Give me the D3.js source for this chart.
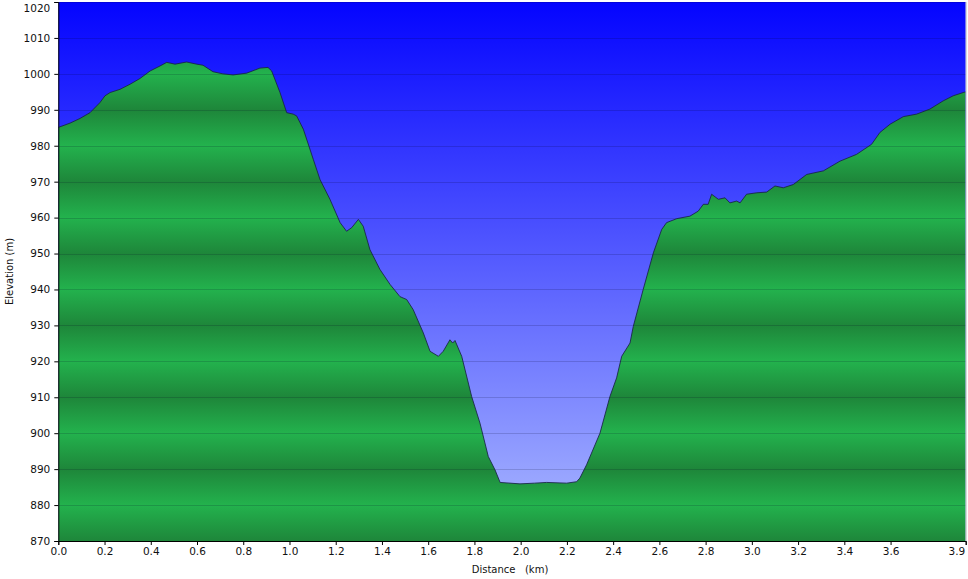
<!DOCTYPE html>
<html>
<head>
<meta charset="utf-8">
<script src="https://cdn.jsdelivr.net/npm/d3@7"></script>
<style>
  html, body { margin: 0; padding: 0; background: #ffffff; }
  svg { display: block; }
  text { font-family: "DejaVu Sans", Verdana, sans-serif; fill: #111; }
</style>
</head>
<body>
<svg id="chart" width="968" height="579"></svg>
<script>
// ---- Data ----
const distanceKm = [
  0.000, 0.051, 0.094, 0.137, 0.180, 0.202, 0.224, 0.267, 0.310, 0.353,
  0.397, 0.440, 0.469, 0.505, 0.555, 0.599, 0.626, 0.669, 0.712, 0.756,
  0.815, 0.872, 0.907, 0.923, 0.959, 0.988, 1.016, 1.031, 1.060, 1.103,
  1.132, 1.175, 1.219, 1.247, 1.269, 1.298, 1.319, 1.348, 1.391, 1.435,
  1.478, 1.507, 1.535, 1.579, 1.608, 1.644, 1.665, 1.694, 1.706, 1.716,
  1.745, 1.788, 1.824, 1.860, 1.889, 1.911, 1.997, 2.060, 2.112, 2.199,
  2.242, 2.256, 2.285, 2.343, 2.386, 2.415, 2.437, 2.473, 2.487, 2.530,
  2.574, 2.610, 2.631, 2.675, 2.732, 2.768, 2.790, 2.811, 2.826, 2.855,
  2.884, 2.905, 2.934, 2.949, 2.977, 3.021, 3.064, 3.100, 3.136, 3.179,
  3.208, 3.237, 3.309, 3.381, 3.453, 3.518, 3.554, 3.598, 3.655, 3.713,
  3.770, 3.828, 3.871, 3.914, 3.925
];
const elevationM = [
  985.1, 986.3, 987.6, 989.2, 992.0, 993.9, 994.8, 995.7, 997.1, 998.7,
  1000.8, 1002.2, 1003.2, 1002.7, 1003.3, 1002.7, 1002.4, 1000.6, 1000.0, 999.7,
  1000.2, 1001.6, 1001.8, 1000.8, 994.8, 989.2, 988.8, 988.3, 984.6, 976.2,
  970.6, 965.1, 958.6, 956.2, 957.2, 959.5, 957.6, 951.1, 945.6, 941.4,
  938.0, 937.2, 934.4, 927.9, 922.8, 921.4, 922.8, 926.0, 925.1, 925.8,
  921.4, 910.2, 902.8, 893.5, 889.8, 886.3, 885.9, 886.1, 886.3, 886.1,
  886.5, 887.5, 891.2, 900.0, 910.2, 915.4, 921.4, 925.1, 929.7, 940.0,
  950.2, 956.7, 958.6, 959.7, 960.4, 961.8, 963.7, 963.7, 966.5, 965.1,
  965.5, 964.1, 964.6, 964.1, 966.5, 966.9, 967.1, 968.8, 968.3, 969.2,
  970.6, 972.0, 973.0, 975.7, 977.6, 980.4, 983.7, 986.0, 988.1, 988.8,
  990.2, 992.5, 993.9, 994.8, 995.0
];
const yTickValues = [870, 880, 890, 900, 910, 920, 930, 940, 950, 960, 970, 980, 990, 1000, 1010, 1020];
const xTickValues = [0, 0.2, 0.4, 0.6, 0.8, 1.0, 1.2, 1.4, 1.6, 1.8, 2.0, 2.2, 2.4, 2.6, 2.8, 3.0, 3.2, 3.4, 3.6, 3.925];
const xTickLabels = ["0.0", "0.2", "0.4", "0.6", "0.8", "1.0", "1.2", "1.4", "1.6", "1.8", "2.0", "2.2", "2.4", "2.6", "2.8", "3.0", "3.2", "3.4", "3.6", "3.9"];
const xDomain = [0, 3.925];
const yDomain = [870, 1020];
const xTitle = "Distance   (km)";
const yTitle = "Elevation (m)";

// ---- Layout ----
const svg = d3.select("#chart");
const plot = { left: 58.3, right: 965.7, top: 2, bottom: 541 };

const x = d3.scaleLinear().domain(xDomain).range([plot.left, plot.right]);
const y = d3.scaleLinear().domain(yDomain).range([plot.bottom, plot.top]);

const defs = svg.append("defs");

// Sky gradient
const sky = defs.append("linearGradient")
  .attr("id", "sky").attr("gradientUnits", "userSpaceOnUse")
  .attr("x1", 0).attr("x2", 0).attr("y1", plot.top).attr("y2", plot.bottom);
sky.append("stop").attr("offset", "0%").attr("stop-color", "rgb(4,4,255)");
sky.append("stop").attr("offset", "100%").attr("stop-color", "rgb(172,186,255)");

// Striped green gradient: dark at 870, 890, ..., light at 880, 900, ...
const ground = defs.append("linearGradient")
  .attr("id", "ground").attr("gradientUnits", "userSpaceOnUse")
  .attr("x1", 0).attr("x2", 0).attr("y1", plot.top).attr("y2", plot.bottom);
yTickValues.slice().reverse().forEach(v => {
  const off = (y(v) - plot.top) / (plot.bottom - plot.top);
  const dark = Math.round(v / 10) % 2 === 1;
  ground.append("stop")
    .attr("offset", off)
    .attr("stop-color", dark ? "rgb(30,134,58)" : "rgb(35,178,77)");
});

const clip = defs.append("clipPath").attr("id", "plotclip");
clip.append("rect")
  .attr("x", plot.left).attr("y", plot.top)
  .attr("width", plot.right - plot.left).attr("height", plot.bottom - plot.top);

// Background
svg.append("rect")
  .attr("x", plot.left).attr("y", plot.top)
  .attr("width", plot.right - plot.left).attr("height", plot.bottom - plot.top)
  .attr("fill", "url(#sky)");

const pts = distanceKm.map((d, i) => [d, elevationM[i]]);

const area = d3.area()
  .x(d => x(d[0]))
  .y0(plot.bottom)
  .y1(d => y(d[1]));

const line = d3.line()
  .x(d => x(d[0]))
  .y(d => y(d[1]));

const g = svg.append("g").attr("clip-path", "url(#plotclip)");

g.append("path").datum(pts)
  .attr("d", area)
  .attr("fill", "url(#ground)");

// Gridlines
g.selectAll("line.grid").data(yTickValues).enter().append("line")
  .attr("class", "grid")
  .attr("x1", plot.left).attr("x2", plot.right)
  .attr("y1", d => Math.round(y(d)) + 0.5).attr("y2", d => Math.round(y(d)) + 0.5)
  .attr("stroke", "rgba(0,0,40,0.16)")
  .attr("stroke-width", 1);

g.append("path").datum(pts)
  .attr("d", line)
  .attr("fill", "none")
  .attr("stroke", "rgba(25,35,70,0.85)")
  .attr("stroke-width", 1);

// Right border
svg.append("line")
  .attr("x1", plot.right + 0.5).attr("x2", plot.right + 0.5)
  .attr("y1", plot.top).attr("y2", plot.bottom)
  .attr("stroke", "#c8c8c8");

// Axes
const yAxis = d3.axisLeft(y).tickValues(yTickValues).tickSize(4).tickPadding(4)
  .tickFormat(d3.format("d"));
const yg = svg.append("g").attr("transform", `translate(${plot.left},0)`).call(yAxis);
yg.select(".domain").attr("stroke", "#000");
yg.selectAll(".tick line").attr("stroke", "#000");
yg.selectAll("text").style("font-size", "10.5px").attr("fill", "#111");
// keep the top label inside the picture
yg.selectAll(".tick").filter(d => d === yDomain[1]).select("text").attr("dy", "0.95em");

const xAxis = d3.axisBottom(x).tickValues(xTickValues).tickSize(4).tickPadding(3)
  .tickFormat((d, i) => xTickLabels[i]);
const xg = svg.append("g").attr("transform", `translate(0,${plot.bottom})`).call(xAxis);
xg.select(".domain").attr("stroke", "#000");
xg.selectAll(".tick line").attr("stroke", "#000");
xg.selectAll("text").style("font-size", "10.5px").attr("fill", "#111");
// last (end-of-track) label is right-aligned to the axis end
xg.selectAll(".tick").filter(d => d === xDomain[1]).select("text")
  .attr("text-anchor", "end").attr("x", -1);

// Titles
svg.append("text")
  .attr("x", 510).attr("y", 573)
  .attr("text-anchor", "middle")
  .style("font-size", "10px")
  .style("white-space", "pre")
  .text(xTitle);

svg.append("text")
  .attr("transform", `translate(13,${(plot.top + plot.bottom) / 2}) rotate(-90)`)
  .attr("text-anchor", "middle")
  .style("font-size", "10px")
  .text(yTitle);
</script>
</body>
</html>
